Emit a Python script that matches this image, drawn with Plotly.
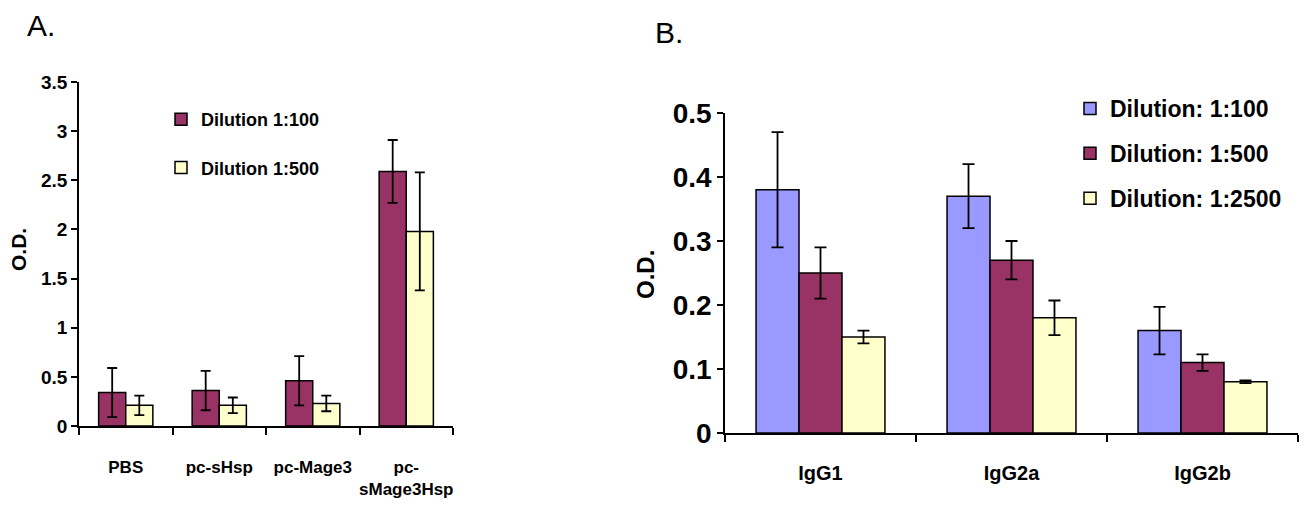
import plotly.graph_objects as go

# ---------------- Panel A data ----------------
groups_a = ["PBS", "pc-sHsp", "pc-Mage3", "pc-<br>sMage3Hsp"]
a_names = ["Dilution 1:100", "Dilution 1:500"]
a_vals = [
    [0.34, 0.36, 0.46, 2.59],
    [0.21, 0.21, 0.23, 1.98],
]
a_err = [
    [0.25, 0.20, 0.25, 0.32],
    [0.10, 0.08, 0.08, 0.60],
]

# ---------------- Panel B data ----------------
groups_b = ["IgG1", "IgG2a", "IgG2b"]
b_names = ["Dilution: 1:100", "Dilution: 1:500", "Dilution: 1:2500"]
b_vals = [
    [0.38, 0.37, 0.16],
    [0.25, 0.27, 0.11],
    [0.15, 0.18, 0.08],
]
b_err = [
    [0.09, 0.05, 0.037],
    [0.04, 0.03, 0.013],
    [0.01, 0.027, 0.002],
]

a_colors = ["#993366", "#FFFFCC"]
b_colors = ["#9999FF", "#993366", "#FFFFCC"]

SANS = "Liberation Sans, Arial, sans-serif"

fig = go.Figure()

wa = 0.29
for i, (name, vals, errs) in enumerate(zip(a_names, a_vals, a_err)):
    fig.add_trace(go.Bar(
        x=groups_a, y=vals, name=name,
        width=wa, offset=-wa + i * wa,
        marker=dict(color=a_colors[i], line=dict(color="black", width=1.5)),
        error_y=dict(type="data", array=errs, visible=True, color="black",
                     thickness=1.8, width=5),
        xaxis="x", yaxis="y", legend="legend",
        legendgroup="a%d" % i,
    ))

wb = 0.225
for i, (name, vals, errs) in enumerate(zip(b_names, b_vals, b_err)):
    fig.add_trace(go.Bar(
        x=groups_b, y=vals, name=name,
        width=wb, offset=-1.5 * wb + i * wb,
        marker=dict(color=b_colors[i], line=dict(color="black", width=1.5)),
        error_y=dict(type="data", array=errs, visible=True, color="black",
                     thickness=1.8, width=6),
        xaxis="x2", yaxis="y2", legend="legend2",
        legendgroup="b%d" % i,
    ))

# page has an 8px body margin; the figure is sized to fill the rest
OFF = 8
W, H = 1308 - OFF, 521 - OFF

def px_x(p):
    return (p - OFF) / W

def px_y(p):
    return 1 - (p - OFF) / H

axis_common = dict(showgrid=False, zeroline=False, showline=True,
                   linecolor="black", linewidth=1.5, ticks="outside",
                   tickcolor="black", tickwidth=1.5, automargin=False)

fig.update_layout(
    width=W, height=H,
    margin=dict(l=0, r=0, t=0, b=0),
    paper_bgcolor="white", plot_bgcolor="white",
    barmode="overlay",
    xaxis=dict(domain=[px_x(79), px_x(453)], anchor="y",
               tickson="boundaries", ticklen=7, ticklabelstandoff=25, tickangle=0,
               tickfont=dict(family=SANS, size=17, color="black", weight="bold"),
               **axis_common),
    yaxis=dict(domain=[px_y(426), px_y(82)], anchor="x", range=[0, 3.5],
               tickvals=[0, 0.5, 1, 1.5, 2, 2.5, 3, 3.5], ticklen=6,
               tickfont=dict(family=SANS, size=19, color="black", weight="bold"),
               **axis_common),
    xaxis2=dict(domain=[px_x(725), px_x(1298)], anchor="y2",
                tickson="boundaries", ticklen=7, ticklabelstandoff=21, tickangle=0,
                tickfont=dict(family=SANS, size=20, color="black", weight="bold"),
                **axis_common),
    yaxis2=dict(domain=[px_y(433), px_y(113)], anchor="x2", range=[0, 0.5],
                tickvals=[0, 0.1, 0.2, 0.3, 0.4, 0.5], ticklen=6,
                tickfont=dict(family=SANS, size=28, color="black", weight="bold"),
                **axis_common),
    legend=dict(x=px_x(161), y=px_y(101), xanchor="left", yanchor="top",
                bgcolor="rgba(0,0,0,0)", tracegroupgap=22,
                font=dict(family=SANS, size=18, color="black", weight="bold"),
                itemwidth=30),
    legend2=dict(x=px_x(1070), y=px_y(87), xanchor="left", yanchor="top",
                 bgcolor="rgba(0,0,0,0)", tracegroupgap=12,
                 font=dict(family=SANS, size=23, color="black", weight="bold"),
                 itemwidth=30),
    annotations=[
        dict(text="A.", x=px_x(26), y=px_y(8), xref="paper", yref="paper",
             xanchor="left", yanchor="top", showarrow=False, borderpad=0,
             font=dict(family=SANS, size=30, color="black")),
        dict(text="B.", x=px_x(653), y=px_y(32), xref="paper", yref="paper",
             xanchor="left", yanchor="middle", showarrow=False,
             font=dict(family=SANS, size=30, color="black")),
        dict(text="O.D.", x=px_x(18), y=px_y(250), xref="paper", yref="paper",
             xanchor="center", yanchor="middle", showarrow=False, textangle=-90,
             font=dict(family=SANS, size=21, color="black", weight="bold")),
        dict(text="O.D.", x=px_x(645), y=px_y(275), xref="paper", yref="paper",
             xanchor="center", yanchor="middle", showarrow=False, textangle=-90,
             font=dict(family=SANS, size=24, color="black", weight="bold")),
    ],
)

fig.write_html("out.html")
